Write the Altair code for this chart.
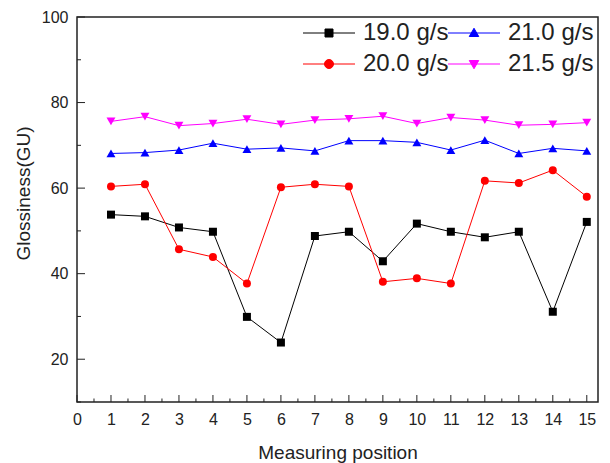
import altair as alt
import pandas as pd

# ---- data ----
positions = list(range(1, 16))
series_names = ["19.0 g/s", "20.0 g/s", "21.0 g/s", "21.5 g/s"]
g19_0 = [53.8, 53.4, 50.8, 49.8, 29.9, 23.9, 48.8, 49.8, 42.9, 51.7, 49.8, 48.5, 49.8, 31.1, 52.1]
g20_0 = [60.4, 60.9, 45.7, 43.9, 37.7, 60.2, 60.9, 60.4, 38.1, 38.9, 37.7, 61.7, 61.2, 64.2, 58.0]
g21_0 = [68.1, 68.3, 68.9, 70.5, 69.1, 69.4, 68.7, 71.1, 71.1, 70.7, 68.9, 71.2, 68.1, 69.3, 68.7]
g21_5 = [75.6, 76.7, 74.6, 75.1, 76.1, 74.9, 75.9, 76.2, 76.8, 75.1, 76.5, 75.9, 74.7, 74.9, 75.3]

x_major = list(range(0, 16))
x_minor = [i + 0.5 for i in range(15)]
y_major = [20, 40, 60, 80, 100]
y_minor = [10, 30, 50, 70, 90]

colors = ["#000000", "#ff0000", "#0000ff", "#ff00ff"]
shapes = ["square", "circle", "triangle-up", "triangle-down"]
# legend symbols: a line segment with the marker in its middle
legend_shapes = [
    "M-5.2,0H5.2M-0.8,-0.8H0.8V0.8H-0.8Z",
    "M-5.2,0H5.2M-0.9,0A0.9,0.9 0 1,0 0.9,0A0.9,0.9 0 1,0 -0.9,0Z",
    "M-5.2,0H5.2M0,-0.95L0.95,0.7H-0.95Z",
    "M-5.2,0H5.2M0,0.95L0.95,-0.7H-0.95Z",
]
line_order = ["21.5 g/s", "21.0 g/s", "20.0 g/s", "19.0 g/s"]

rows = []
for name, vals in zip(series_names, [g19_0, g20_0, g21_0, g21_5]):
    for p, v in zip(positions, vals):
        rows.append({"pos": p, "glossiness": v, "series": name})
df = pd.DataFrame(rows)

xmaj_df = pd.DataFrame({"pos": x_major})
xmin_df = pd.DataFrame({"pos": x_minor})
ymaj_df = pd.DataFrame({"glossiness": y_major})
ymin_df = pd.DataFrame({"glossiness": y_minor})

FONT = "Liberation Sans"
TXT = "#222222"
TICK = "#222222"

x_dom = [0, 15.33]
y_dom = [10, 100]
x_scale = alt.Scale(domain=x_dom, nice=False, zero=False)
y_scale = alt.Scale(domain=y_dom, nice=False, zero=False)

x_axis = alt.Axis(
    values=x_major, ticks=False, tickSize=0, domain=False, grid=False,
    labelPadding=9, labelFontSize=16, labelFont=FONT, labelColor=TXT,
    labelFlush=False, labelOverlap=False, format="d",
    title="Measuring position", titleFontSize=19, titleFont=FONT,
    titleColor=TXT, titleFontWeight="normal", titleY=56,
    titleBaseline="alphabetic",
)
y_axis = alt.Axis(
    values=y_major, ticks=False, tickSize=0, domain=False, grid=False,
    labelPadding=9, labelFontSize=16, labelFont=FONT, labelColor=TXT,
    labelFlush=False, labelOverlap=False, format="d",
    title="Glossiness(GU)", titleFontSize=19, titleFont=FONT,
    titleColor=TXT, titleFontWeight="normal", titleX=-48, titleY=176,
    titleBaseline="alphabetic", titleAlign="center",
)

X = alt.X("pos:Q", scale=x_scale, axis=x_axis)
Y = alt.Y("glossiness:Q", scale=y_scale, axis=y_axis)

# inward tick lengths expressed in data units of each axis
x_tick_major = 7 * (y_dom[1] - y_dom[0]) / 385.0
x_tick_minor = 3.5 * (y_dom[1] - y_dom[0]) / 385.0
y_tick_major = 8 * (x_dom[1] - x_dom[0]) / 521.0
y_tick_minor = 4 * (x_dom[1] - x_dom[0]) / 521.0


def x_ticks(data, length):
    return alt.Chart(data).mark_rule(color=TICK, strokeWidth=1).encode(
        x=X,
        y=alt.YDatum(y_dom[0], scale=y_scale, axis=y_axis, type="quantitative"),
        y2=alt.Y2Datum(y_dom[0] + length),
    )


def y_ticks(data, length):
    return alt.Chart(data).mark_rule(color=TICK, strokeWidth=1).encode(
        y=Y,
        x=alt.XDatum(x_dom[0], scale=x_scale, axis=x_axis, type="quantitative"),
        x2=alt.X2Datum(x_dom[0] + length),
    )


color_scale = alt.Scale(domain=line_order,
                        range=[colors[series_names.index(s)] for s in line_order])

lines = alt.Chart(df).mark_line(strokeWidth=1).encode(
    x=X, y=Y,
    color=alt.Color("series:N", scale=color_scale, legend=None),
)

point_layers = []
for name, shp in zip(series_names, shapes):
    size = 64 if shp in ("square", "circle") else 80
    point_layers.append(
        alt.Chart(df)
        .transform_filter(alt.datum.series == name)
        .mark_point(filled=True, size=size, opacity=1, shape=shp)
        .encode(x=X, y=Y, color=alt.Color("series:N", scale=color_scale, legend=None))
    )

leg = alt.Legend(
    title=None, orient="none", legendX=240, legendY=4, columns=2,
    columnPadding=-3, rowPadding=7, labelFontSize=24, labelFont=FONT,
    labelColor=TXT, labelOffset=22, symbolStrokeWidth=1, symbolOpacity=1,
    symbolSize=100, labelLimit=300,
)
legend_layer = alt.Chart(df).mark_point(filled=True, size=100, opacity=0).encode(
    x=X, y=Y,
    fill=alt.Fill("series:N", scale=alt.Scale(domain=series_names, range=colors), legend=leg),
    stroke=alt.Stroke("series:N", scale=alt.Scale(domain=series_names, range=colors), legend=leg),
    shape=alt.Shape("series:N", scale=alt.Scale(domain=series_names, range=legend_shapes), legend=leg),
)

chart = (
    alt.layer(
        lines, *point_layers,
        x_ticks(xmaj_df, x_tick_major), x_ticks(xmin_df, x_tick_minor),
        y_ticks(ymaj_df, y_tick_major), y_ticks(ymin_df, y_tick_minor),
        legend_layer,
    )
    .properties(
        width=521, height=385,
        padding={"left": 77, "top": 17, "right": 12, "bottom": 61},
        autosize=alt.AutoSizeParams(type="none"),
        background="white",
    )
    .configure_view(stroke="#222222", strokeWidth=1.5)
)

chart.save("out.html", embed_options={"renderer": "svg", "actions": False})
